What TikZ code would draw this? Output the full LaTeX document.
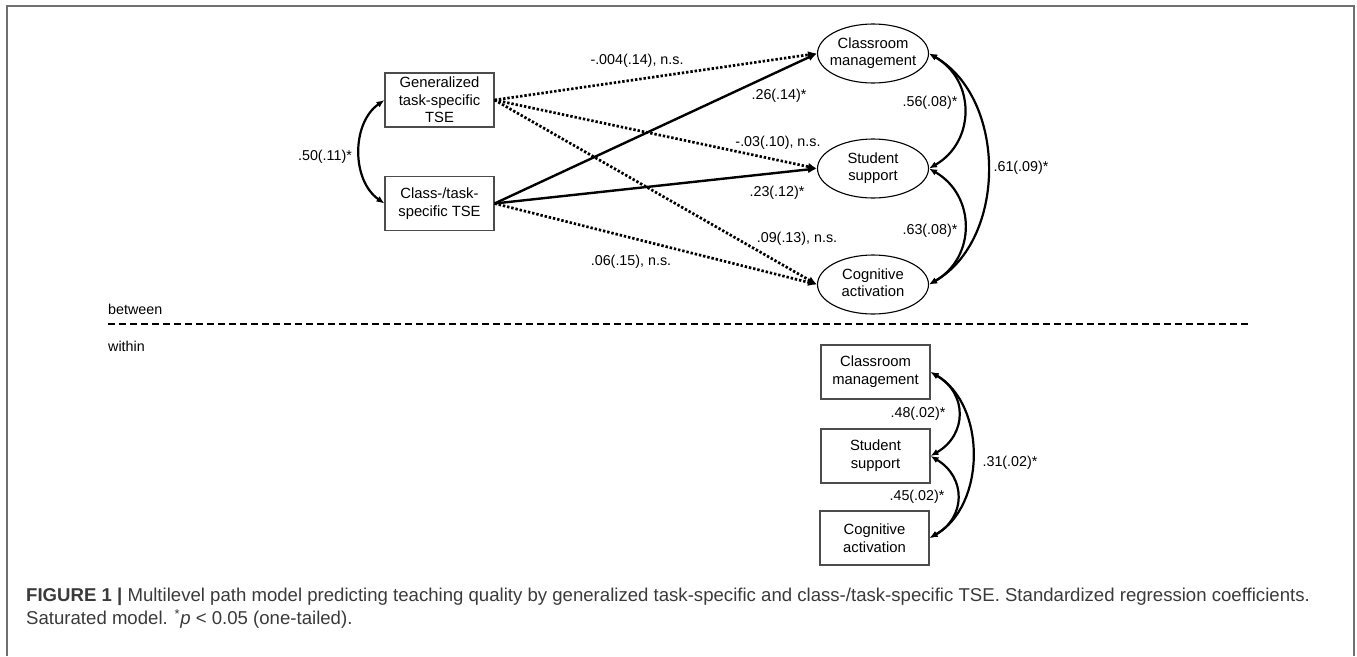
\documentclass[tikz,border=0pt]{standalone}
\usepackage{fontspec}
\setmainfont{Liberation Sans}
\usetikzlibrary{arrows.meta,shapes.geometric}
\definecolor{framegray}{HTML}{707070}
\definecolor{captiongray}{HTML}{3A3A3A}
\newcommand{\boxfont}{\fontsize{14.8}{17.7}\selectfont}
\newcommand{\coeffont}{\fontsize{14.3}{16}\selectfont}
\newcommand{\ovaltext}[2]{\makebox[0pt]{\begin{tabular}{@{}c@{}}#1\\#2\end{tabular}}}
\begin{document}
\begin{tikzpicture}[x=1pt,y=1pt,
    varbox/.style={draw=black!70,line width=1.1pt,minimum width=109pt,minimum height=54pt,inner sep=0pt,align=center,font=\boxfont},
    latent/.style={draw=black,ellipse,line width=1.1pt,minimum width=111pt,minimum height=59pt,inner sep=0pt,font=\boxfont},
    coef/.style={font=\coeffont},
    effect/.style={line width=2.4pt,-{Latex[length=9pt,width=7.5pt]}},
    nseffect/.style={effect,line width=2.7pt,dash pattern=on 2.4pt off 1.9pt},
    covar/.style={line width=2.2pt,{Latex[length=8pt,width=6.5pt]}-{Latex[length=8pt,width=6.5pt]}}]
    \useasboundingbox (0,0) rectangle (1357,-656);
    \draw[framegray,line width=1.5pt] (7,-656) -- (7,-6) -- (1354,-6) -- (1354,-656);

    \node[varbox] (genT) at (439.5,-100) {Generalized\\task-specific\\TSE};
    \node[varbox] (clsT) at (439.5,-203.5) {Class-/task-\\specific TSE};

    \node[latent] (cmB) at (873,-53.5) {\ovaltext{Classroom}{management}};
    \node[latent] (ssB) at (873,-168.5) {\ovaltext{Student}{support}};
    \node[latent] (caB) at (873,-284.5) {\ovaltext{Cognitive}{activation}};

    \draw[nseffect] (genT.east) -- (cmB.west);
    \draw[nseffect] (genT.east) -- (ssB.west);
    \draw[nseffect] (genT.east) -- (caB.west);
    \draw[effect] (clsT.east) -- (cmB.west);
    \draw[effect] (clsT.east) -- (ssB.west);
    \draw[nseffect] (clsT.east) -- (caB.west);

    \draw[covar] (genT.west) to[bend right=55] (clsT.west);
    \draw[covar] (cmB.east) to[bend left=60,looseness=1.2] (ssB.east);
    \draw[covar] (ssB.east) to[bend left=60,looseness=1.2] (caB.east);
    \draw[covar] (cmB.east) to[bend left=60] (caB.east);

    \node[coef] (r50) at (325,-157) {.50(.11)*};
    \node[coef] (b004) at (637,-61) {-.004(.14), n.s.};
    \node[coef] (b26) at (779,-96) {.26(.14)*};
    \node[coef] (b03) at (778,-143) {-.03(.10), n.s.};
    \node[coef] (b23) at (777,-193) {.23(.12)*};
    \node[coef] (b09) at (797,-239) {.09(.13), n.s.};
    \node[coef] (b06) at (631,-262) {.06(.15), n.s.};
    \node[coef] (r56) at (930,-103) {.56(.08)*};
    \node[coef] (r63) at (930,-231) {.63(.08)*};
    \node[coef] (r61) at (1021,-168) {.61(.09)*};

    \node[coef,anchor=west,inner sep=0pt] (betw) at (108,-309) {between};
    \coordinate (levA) at (108,-324);
    \coordinate (levB) at (1250,-324);
    \draw[line width=1.3pt,dash pattern=on 7pt off 4pt] (levA) -- (levB);
    \node[coef,anchor=west,inner sep=0pt] (with) at (108,-346) {within};

    \node[varbox] (cmW) at (875.5,-372) {Classroom\\management};
    \node[varbox] (ssW) at (875.5,-456) {Student\\support};
    \node[varbox] (caW) at (874.5,-538) {Cognitive\\activation};

    \draw[covar] (cmW.east) to[bend left=60,looseness=1.3] (ssW.east);
    \draw[covar] (ssW.east) to[bend left=60,looseness=1.3] (caW.east);
    \draw[covar] (cmW.east) to[bend left=60] (caW.east);

    \node[coef] (w48) at (918,-414) {.48(.02)*};
    \node[coef] (w45) at (917,-497) {.45(.02)*};
    \node[coef] (w31) at (1010,-463) {.31(.02)*};

    \node[anchor=north west,inner sep=0pt,align=left,text=captiongray,
      font=\fontsize{18.6}{23}\selectfont] (caption) at (26,-588) {%
      \textbf{FIGURE 1 |} Multilevel path model predicting teaching quality by generalized task-specific and class-/task-specific TSE. Standardized regression coefficients.\\
      Saturated model. \textsuperscript{*}\textit{p} < 0.05 (one-tailed).};
  \end{tikzpicture}
\end{document}
